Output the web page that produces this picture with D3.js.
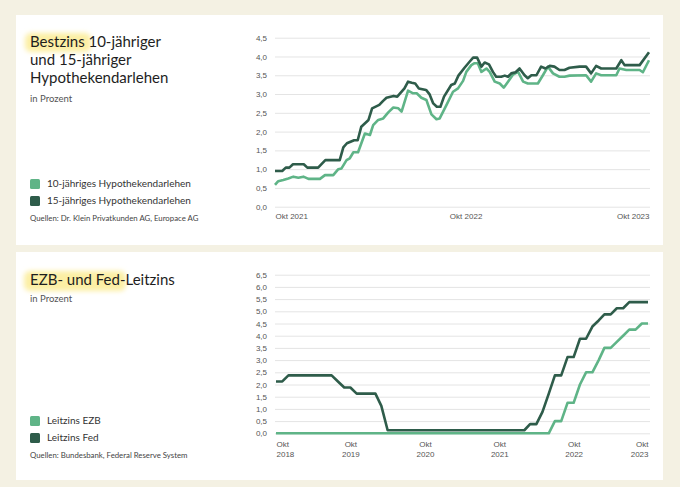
<!DOCTYPE html>
<html>
<head>
<meta charset="utf-8">
<script src="https://cdn.jsdelivr.net/npm/d3@7"></script>
<style type="text/css">
  body{
    margin: 0;
    background: #f4f1e3;
    font-family: 'Lato', 'Inter', sans-serif;
  }
  .axis path{ display: none; }
  .axis line{ stroke: #e4e4e4; stroke-width: 1; }
  .axis text{ fill: #555; font-size: 8px; }
</style>
</head>
<body>
<svg id="chart" width="680" height="487"></svg>
<script>

// Bestzins, Wochen seit Okt 2021
var wochen15 = [0,2,3,4,5,8,9,12,14,18,19,20,22,23,24,26,27,29,30,31,33,34,36,37,38,39,40,42,43,44,45,46,47,49,50,51,
  52.7,54.1,55.1,56.2,57.4,58.3,59.5,60.6,61.5,62.9,63.9,64.8,65.7,66.9,68,69.4,70.3,71.3,72.7,74,75.2,76.4,77.7,79.1,80.5,81.9,84.7,86.5,87.9,89.3,90.7,94.9,96.3,97.2,101.4,104];
var zins15 = [0.95,0.95,1.04,1.04,1.13,1.13,1.04,1.04,1.24,1.24,1.58,1.69,1.77,1.77,2.13,2.31,2.62,2.71,2.81,2.90,2.95,2.93,3.15,3.33,3.30,3.28,3.15,3.11,2.99,2.75,2.66,2.66,2.93,3.24,3.28,3.49,
  3.70,3.86,3.97,3.97,3.73,3.84,3.79,3.59,3.46,3.46,3.49,3.46,3.55,3.58,3.68,3.50,3.42,3.50,3.50,3.73,3.68,3.75,3.73,3.64,3.64,3.70,3.73,3.73,3.55,3.75,3.68,3.68,3.90,3.77,3.77,4.11];

var wochen10 = [0,0.9,2.3,3.7,5.1,6.5,7.9,9.3,12.5,13.9,16.2,17.6,18.5,19.9,20.8,21.8,23.1,25,26.4,27.3,
  28.7,30.1,31.5,32.9,34.3,35.2,37,38.4,39.4,40.7,42.1,43.5,44.9,45.8,47.7,49.5,50.9,52.3,53.2,54.6,
  55.5,56.4,57.4,58.8,59.7,61.1,62.5,63.6,64.8,66.2,67.6,69,70.3,73.1,74.5,75.9,77.3,79.1,80.5,81.9,
  86.5,87.9,89.3,90.7,94.9,95.8,97.7,101.4,102.3,104];
var zins10 = [0.58,0.68,0.71,0.75,0.80,0.77,0.80,0.74,0.74,0.84,0.84,1.00,1.02,1.24,1.29,1.45,1.45,1.95,1.91,2.17,
  2.31,2.35,2.51,2.64,2.62,2.53,3.09,3.02,3.02,2.90,2.84,2.46,2.33,2.35,2.71,3.06,3.15,3.35,3.59,3.77,
  3.82,3.82,3.59,3.68,3.59,3.33,3.28,3.17,3.33,3.52,3.59,3.33,3.28,3.28,3.50,3.73,3.55,3.46,3.46,3.49,
  3.50,3.33,3.55,3.50,3.50,3.68,3.64,3.64,3.58,3.90];

var wochenTicks = [0, 53, 104];
var wochenLabels = ['Okt 2021', 'Okt 2022', 'Okt 2023'];
var ticksOben = [0,0.5,1,1.5,2,2.5,3,3.5,4,4.5];

// Leitzinsen, monatlich Okt 2018 - Okt 2023
var monate = d3.utcMonth.range(new Date(Date.UTC(2018,9,1)), new Date(Date.UTC(2023,9,2)));
var ezb = [0,0,0,0,0,0,0,0,0,0,0,0,0,0,0,0,0,0,0,0,0,0,0,0,0,0,0,0,0,0,0,0,0,0,0,0,0,0,0,0,0,0,0,0,0,
  0.5,0.5,1.25,1.25,2.0,2.5,2.5,3.0,3.5,3.5,3.75,4.0,4.25,4.25,4.5,4.5];
var fed = [2.125,2.125,2.375,2.375,2.375,2.375,2.375,2.375,2.375,2.375,2.125,1.875,1.875,1.625,1.625,1.625,1.625,1.125,
  0.125,0.125,0.125,0.125,0.125,0.125,0.125,0.125,0.125,0.125,0.125,0.125,0.125,0.125,0.125,0.125,0.125,0.125,0.125,0.125,0.125,0.125,0.125,
  0.375,0.375,0.875,1.625,2.375,2.375,3.125,3.125,3.875,3.875,4.375,4.625,4.875,4.875,5.125,5.125,5.375,5.375,5.375,5.375];
var jahre = [2018,2019,2020,2021,2022,2023];
var ticksUnten = [0,0.5,1,1.5,2,2.5,3,3.5,4,4.5,5,5.5,6,6.5];

var hell = '#5fb487';
var dunkel = '#2e5c4a';
var fmt = function(v) { return d3.format('.1f')(v).replace('.', ','); };

var svg = d3.select('#chart');

svg.append('defs').append('filter').attr('id', 'blur')
  .attr('x', '-20%').attr('y', '-40%').attr('width', '140%').attr('height', '180%')
  .append('feGaussianBlur').attr('stdDeviation', 2.5);

// Karten
svg.append('rect').attr('x', 16).attr('y', 15).attr('width', 647).attr('height', 230).attr('fill', '#fff');
svg.append('rect').attr('x', 16).attr('y', 252).attr('width', 647).attr('height', 228).attr('fill', '#fff');

function titel(zeilen, y0, hl) {
  svg.append('rect')
    .attr('x', hl[0]).attr('y', hl[1]).attr('width', hl[2]).attr('height', hl[3])
    .attr('rx', 6).attr('fill', '#fcefa4').attr('filter', 'url(#blur)');
  zeilen.forEach(function(z, i) {
    svg.append('text')
      .attr('x', 30).attr('y', y0 + i*18)
      .attr('font-size', 15).attr('fill', '#1e1e1e')
      .text(z);
  });
}

function legende(y0, namen, quelle) {
  namen.forEach(function(n, i) {
    svg.append('rect')
      .attr('x', 30).attr('y', y0 + i*17 - 8).attr('width', 10).attr('height', 10)
      .attr('rx', 1.5).attr('fill', i == 0 ? hell : dunkel);
    svg.append('text')
      .attr('x', 47).attr('y', y0 + i*17)
      .attr('font-size', 10).attr('fill', '#333')
      .text(n);
  });
  svg.append('text')
    .attr('x', 30).attr('y', y0 + 34)
    .attr('font-size', 7.8).attr('fill', '#444')
    .text(quelle);
}

// oberes Diagramm
titel(['Bestzins 10-jähriger', 'und 15-jähriger', 'Hypothekendarlehen'], 47, [25, 33, 66, 19]);
svg.append('text').attr('x', 30).attr('y', 102).attr('font-size', 9.5).attr('fill', '#555').text('in Prozent');
legende(187, ['10-jähriges Hypothekendarlehen', '15-jähriges Hypothekendarlehen'],
  'Quellen: Dr. Klein Privatkunden AG, Europace AG');

var x1 = d3.scaleLinear().domain([0, 104]).range([275, 649]);
var y1 = d3.scaleLinear().domain([0, 4.5]).range([206.7, 37.7]);

svg.append('g').attr('class', 'axis')
  .attr('transform', 'translate(275,0)')
  .call(d3.axisLeft(y1).tickValues(ticksOben).tickFormat(fmt).tickSize(-375).tickPadding(8));

svg.append('g').attr('class', 'axis')
  .attr('transform', 'translate(0,206.7)')
  .call(d3.axisBottom(x1).tickValues(wochenTicks).tickSize(0).tickPadding(7)
    .tickFormat(function(d, i) { return wochenLabels[i]; }))
  .selectAll('text')
  .attr('text-anchor', function(d, i) { return i == 0 ? 'start' : (i == 2 ? 'end' : 'middle'); });

var linie1 = function(xs) {
  return d3.line().x(function(d, i) { return x1(xs[i]); }).y(function(d) { return y1(d); });
};

svg.append('path').datum(zins10)
  .attr('d', linie1(wochen10)).attr('fill', 'none')
  .attr('stroke', hell).attr('stroke-width', 2.6).attr('stroke-linejoin', 'round');
svg.append('path').datum(zins15)
  .attr('d', linie1(wochen15)).attr('fill', 'none')
  .attr('stroke', dunkel).attr('stroke-width', 2.6).attr('stroke-linejoin', 'round');

// unteres Diagramm
titel(['EZB- und Fed-Leitzins'], 285, [24, 271, 102, 20]);
svg.append('text').attr('x', 30).attr('y', 302).attr('font-size', 9.5).attr('fill', '#555').text('in Prozent');
legende(424, ['Leitzins EZB', 'Leitzins Fed'], 'Quellen: Bundesbank, Federal Reserve System');

var x2 = d3.scaleUtc().domain([monate[0], monate[monate.length-1]]).range([276, 648]);
var y2 = d3.scaleLinear().domain([0, 6.5]).range([433.3, 274.7]);

svg.append('g').attr('class', 'axis')
  .attr('transform', 'translate(275,0)')
  .call(d3.axisLeft(y2).tickValues(ticksUnten).tickFormat(fmt).tickSize(-375).tickPadding(8));

var okt = jahre.map(function(j) { return new Date(Date.UTC(j, 9, 1)); });
var xAchse = svg.append('g').attr('class', 'axis')
  .attr('transform', 'translate(0,433.3)')
  .call(d3.axisBottom(x2).tickValues(okt).tickSize(0).tickPadding(8).tickFormat(function() { return ''; }));

xAchse.selectAll('.tick text').each(function(d, i) {
  var t = d3.select(this)
    .attr('text-anchor', i == 0 ? 'start' : (i == jahre.length-1 ? 'end' : 'middle'));
  t.append('tspan').attr('x', 0).text('Okt');
  t.append('tspan').attr('x', 0).attr('dy', 10).text(jahre[i]);
});

var linie2 = d3.line().x(function(d, i) { return x2(monate[i]); }).y(function(d) { return y2(d); });

svg.append('path').datum(fed)
  .attr('d', linie2).attr('fill', 'none')
  .attr('stroke', dunkel).attr('stroke-width', 2.6).attr('stroke-linejoin', 'round');
svg.append('path').datum(ezb)
  .attr('d', linie2).attr('fill', 'none')
  .attr('stroke', hell).attr('stroke-width', 2.6).attr('stroke-linejoin', 'round');

</script>
</body>
</html>
